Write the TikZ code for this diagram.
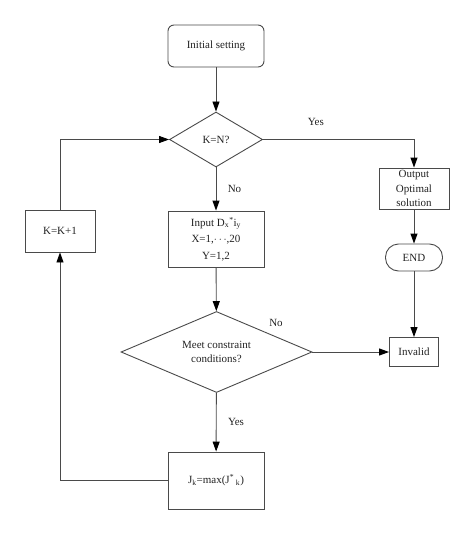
\documentclass[tikz,border=0pt]{standalone}
\usepackage{fontspec}
\setmainfont{Liberation Serif}
\usetikzlibrary{shapes.geometric,arrows.meta}
\definecolor{linegray}{HTML}{4A4A4A}
\definecolor{txtgray}{HTML}{222222}
\begin{document}
\begin{tikzpicture}[x=1pt,y=-1pt,
  every node/.style={font=\fontsize{11}{14}\selectfont, text=txtgray},
  box/.style={draw=linegray, line width=0.9pt, rectangle, inner sep=0pt, align=center},
  dia/.style={draw=linegray, line width=0.9pt, shape=diamond, inner sep=0pt, align=center},
  arr/.style={draw=linegray, line width=0.9pt, -{Triangle[length=10pt,width=7pt,color=black]}},
  lbl/.style={font=\fontsize{11}{12}\selectfont}]
\useasboundingbox (0,0) rectangle (474,535);
\node[box, rounded corners=6pt, minimum width=96pt, minimum height=42pt] (init) at (216,46) {Initial setting};
\node[dia, aspect=1.69, minimum width=93pt, minimum height=55pt] (kn) at (216,139.5) {K=N?};
\node[box, minimum width=96pt, minimum height=56pt, font=\fontsize{11}{16.5}\selectfont] (inp) at (216,239) {Input D\textsubscript{x}\textsuperscript{*}i\textsubscript{y}\\X=1,$\cdots$,20\\Y=1,2};
\node[dia, aspect=2.36, minimum width=191pt, minimum height=81pt] (meet) at (216.5,352) {Meet constraint\\conditions?};
\node[box, minimum width=96pt, minimum height=57pt] (jk) at (216,480.5) {J\textsubscript{k}=max(J\textsuperscript{*}\,\textsubscript{k})};
\node[box, minimum width=70pt, minimum height=42pt] (kk) at (60,231) {K=K+1};
\node[box, minimum width=70pt, minimum height=41pt, font=\fontsize{11}{14.5}\selectfont] (out) at (414,188.5) {Output\\Optimal\\solution};
\node[box, rounded corners=13pt, minimum width=57pt, minimum height=27pt] (end) at (414,257.5) {END};
\node[box, minimum width=49pt, minimum height=29pt] (inv) at (414,352) {Invalid};
\coordinate (c1) at (414,139.5);
\coordinate (c2) at (60,480.5);
\coordinate (c3) at (60,139.5);
\draw[arr] (init) -- (kn);
\draw[arr] (kn) -- node[lbl, right, xshift=8pt] {No} (inp);
\draw[arr] (inp) -- (meet);
\draw[arr] (meet) -- node[lbl, right, xshift=8pt] {Yes} (jk);
\draw[arr] (kn.east) -- node[lbl, above, yshift=10pt, pos=0.35] {Yes} (c1) -- (out.north);
\draw[arr] (out) -- (end);
\draw[arr] (end) -- (inv);
\draw[arr] (meet.east) -- (inv.west);
\node[lbl] (no2) at (276,323) {No};
\draw[arr] (jk.west) -- (c2) -- (kk.south);
\draw[arr] (kk.north) -- (c3) -- (kn.west);
\end{tikzpicture}
\end{document}
